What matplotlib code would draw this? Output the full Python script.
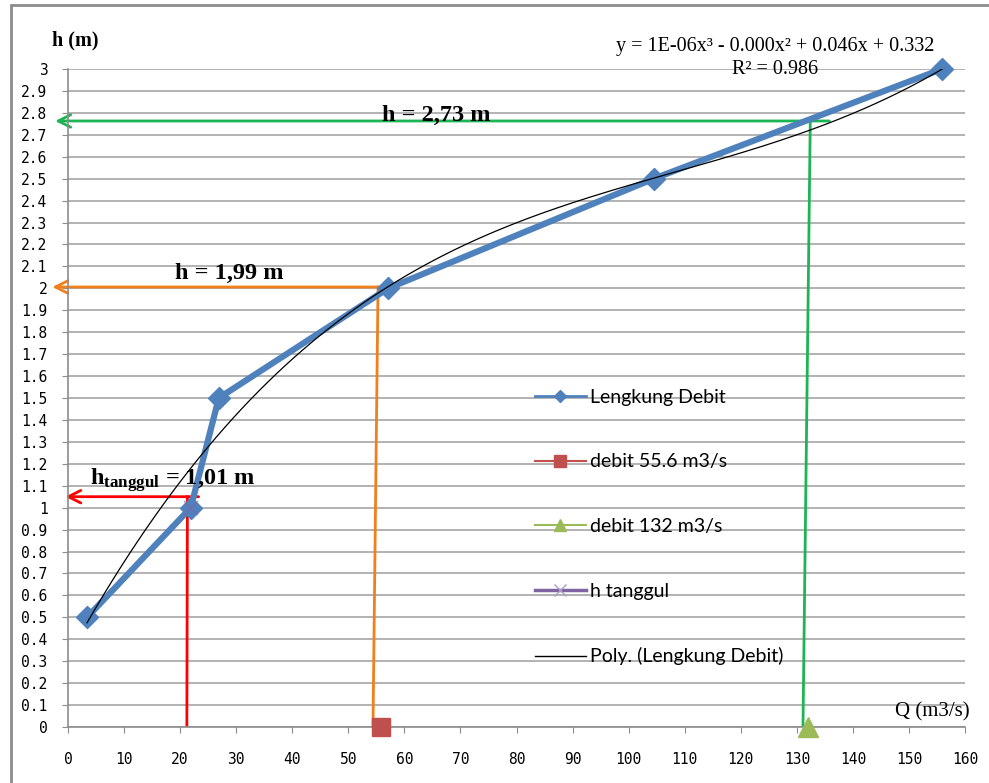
import matplotlib.pyplot as plt
import numpy as np
from matplotlib.lines import Line2D

# Lengkung debit (rating curve)
q_debit = [3.4, 21.9, 26.9, 57.1, 104.5, 155.9]
h_debit = [0.5, 1.0, 1.5, 2.0, 2.5, 3.0]

# single-point series
q_55 = [55.8]
h_55 = [0.0]
q_132 = [132.0]
h_132 = [0.0]
q_tanggul = [22.0]
h_tanggul = [1.0]

# hand-drawn guide lines (vertical from Q axis, horizontal arrow to h axis)
red_vert_q = [21.2, 21.3]
red_vert_h = [0.0, 1.05]
red_arrow_q = [23.3, -0.5]
red_arrow_h = [1.05, 1.05]

orange_vert_q = [54.4, 55.3]
orange_vert_h = [0.0, 2.006]
orange_arrow_q = [57.3, -2.8]
orange_arrow_h = [2.006, 2.006]

green_vert_q = [131.1, 132.4]
green_vert_h = [0.0, 2.763]
green_arrow_q = [135.8, -2.3]
green_arrow_h = [2.763, 2.763]

x_ticks = list(range(0, 161, 10))
y_ticks = [round(i * 0.1, 1) for i in range(31)]
y_labels = [str(int(v)) if v == int(v) else f"{v:.1f}" for v in y_ticks]

plt.rcParams["mathtext.fontset"] = "custom"
plt.rcParams["mathtext.rm"] = "Liberation Serif"
plt.rcParams["mathtext.bf"] = "Liberation Serif:bold"

serif = ["Liberation Serif", "DejaVu Serif"]
ticks_font = ["DejaVu Sans Mono"]

fig = plt.figure(figsize=(9.89, 7.83), dpi=100)
ax = fig.add_axes([68 / 989, 1 - 727 / 783, (965 - 68) / 989, (727 - 69) / 783])

# outer chart border (only top/left visible in the crop)
fig.add_artist(plt.Rectangle((10.5 / 989, -0.1), 1.2, 1 - 5.5 / 783 + 0.1,
                             transform=fig.transFigure, fill=False,
                             edgecolor="#8c8c8c", linewidth=2))

ax.set_xlim(0, 160)
ax.set_ylim(0, 3)
for s in ["top", "right"]:
    ax.spines[s].set_visible(False)
for s in ["left", "bottom"]:
    ax.spines[s].set_color("#8c8c8c")
    ax.spines[s].set_linewidth(1.2)

ax.set_yticks(y_ticks)
ax.set_yticklabels(y_labels, family=ticks_font, fontsize=10.5)
ax.set_xticks(x_ticks)
ax.set_xticklabels([str(v) for v in x_ticks], family=ticks_font, fontsize=10.5)
ax.tick_params(axis="y", length=4.3, color="#8c8c8c", pad=10.5)
ax.tick_params(axis="x", length=4.3, color="#8c8c8c", pad=14)
ax.grid(axis="y", color="#a6a6a6", linewidth=1.2)
ax.set_axisbelow(True)

# guide lines
ax.plot(red_vert_q, red_vert_h, color="#ff0000", lw=2, zorder=2)
ax.plot(orange_vert_q, orange_vert_h, color="#f07f1d", lw=2, zorder=2)
ax.plot(green_vert_q, green_vert_h, color="#1db454", lw=2, zorder=2)
for qs, hs, col in [(red_arrow_q, red_arrow_h, "#ff0000"),
                    (orange_arrow_q, orange_arrow_h, "#f07f1d"),
                    (green_arrow_q, green_arrow_h, "#1db454")]:
    ax.annotate("", xy=(qs[1], hs[1]), xytext=(qs[0], hs[0]),
                arrowprops=dict(arrowstyle="->,head_length=0.9,head_width=0.45",
                                color=col, lw=2, shrinkA=0, shrinkB=0),
                annotation_clip=False, zorder=2)

# rating curve
ax.plot(q_debit, h_debit, color="#4f81bd", lw=4.5, marker="D", markersize=11,
        zorder=3, clip_on=False)
ax.plot(q_55, h_55, color="#c0504d", marker="s", markersize=13, ls="none",
        zorder=4, clip_on=False)
ax.plot(q_132, h_132, color="#9bbb59", marker="^", markersize=14, ls="none",
        zorder=4, clip_on=False)
ax.plot(q_tanggul, h_tanggul, color="#8064a2", marker="x", markersize=10,
        mew=1.2, ls="none", zorder=4, alpha=0.6, clip_on=False)

# polynomial trendline
coef = np.polyfit(q_debit, h_debit, 3)
q_fit = np.linspace(min(q_debit), max(q_debit), 300)
ax.plot(q_fit, np.polyval(coef, q_fit), color="black", lw=0.9, zorder=5)

# legend
handles = [
    Line2D([], [], color="#4f81bd", lw=2, marker="D", markersize=6),
    Line2D([], [], color="#c0504d", lw=1.5, marker="s", markersize=8),
    Line2D([], [], color="#9bbb59", lw=1.5, marker="^", markersize=8),
    Line2D([], [], color="#8064a2", lw=2.5, marker="x", markersize=8,
           markeredgecolor="#a99bc4"),
    Line2D([], [], color="black", lw=1),
]
labels = ["Lengkung Debit", "debit 55.6 m3/s", "debit 132 m3/s", "h tanggul",
          "Poly. (Lengkung Debit)"]
leg = ax.legend(handles, labels, loc="center left",
                bbox_to_anchor=(535 / 989, 1 - 527 / 783),
                bbox_transform=fig.transFigure, frameon=False,
                prop={"family": ["Lato", "DejaVu Sans"], "size": 14},
                handlelength=2.6, handletextpad=0.25, labelspacing=2.45,
                borderpad=0, borderaxespad=0)

# annotations
fig.text(436 / 989, 1 - 115 / 783, "h = 2,73 m", fontsize=17.5,
         fontweight="bold", family=serif, ha="center", va="center")
fig.text(229 / 989, 1 - 273 / 783, "h = 1,99 m", fontsize=17.5,
         fontweight="bold", family=serif, ha="center", va="center")
fig.text(90 / 989, 1 - 480 / 783, r"$\mathbf{h_{tanggul}}$ = 1,01 m",
         fontsize=17.5, fontweight="bold", family=serif, ha="left",
         va="center")
fig.text(775 / 989, 1 - 46 / 783, "y = 1E-06x³ - 0.000x² + 0.046x + 0.332",
         fontsize=14.5, family=serif, ha="center", va="center")
fig.text(775 / 989, 1 - 70 / 783, "R² = 0.986", fontsize=14.5, family=serif,
         ha="center", va="center")
fig.text(52 / 989, 1 - 40 / 783, "h (m)", fontsize=14.5, fontweight="bold",
         family=serif, ha="left", va="center")
fig.text(970 / 989, 1 - 712 / 783, "Q (m3/s)", fontsize=15, family=serif,
         ha="right", va="center")

fig.savefig("out.png", dpi=100)
